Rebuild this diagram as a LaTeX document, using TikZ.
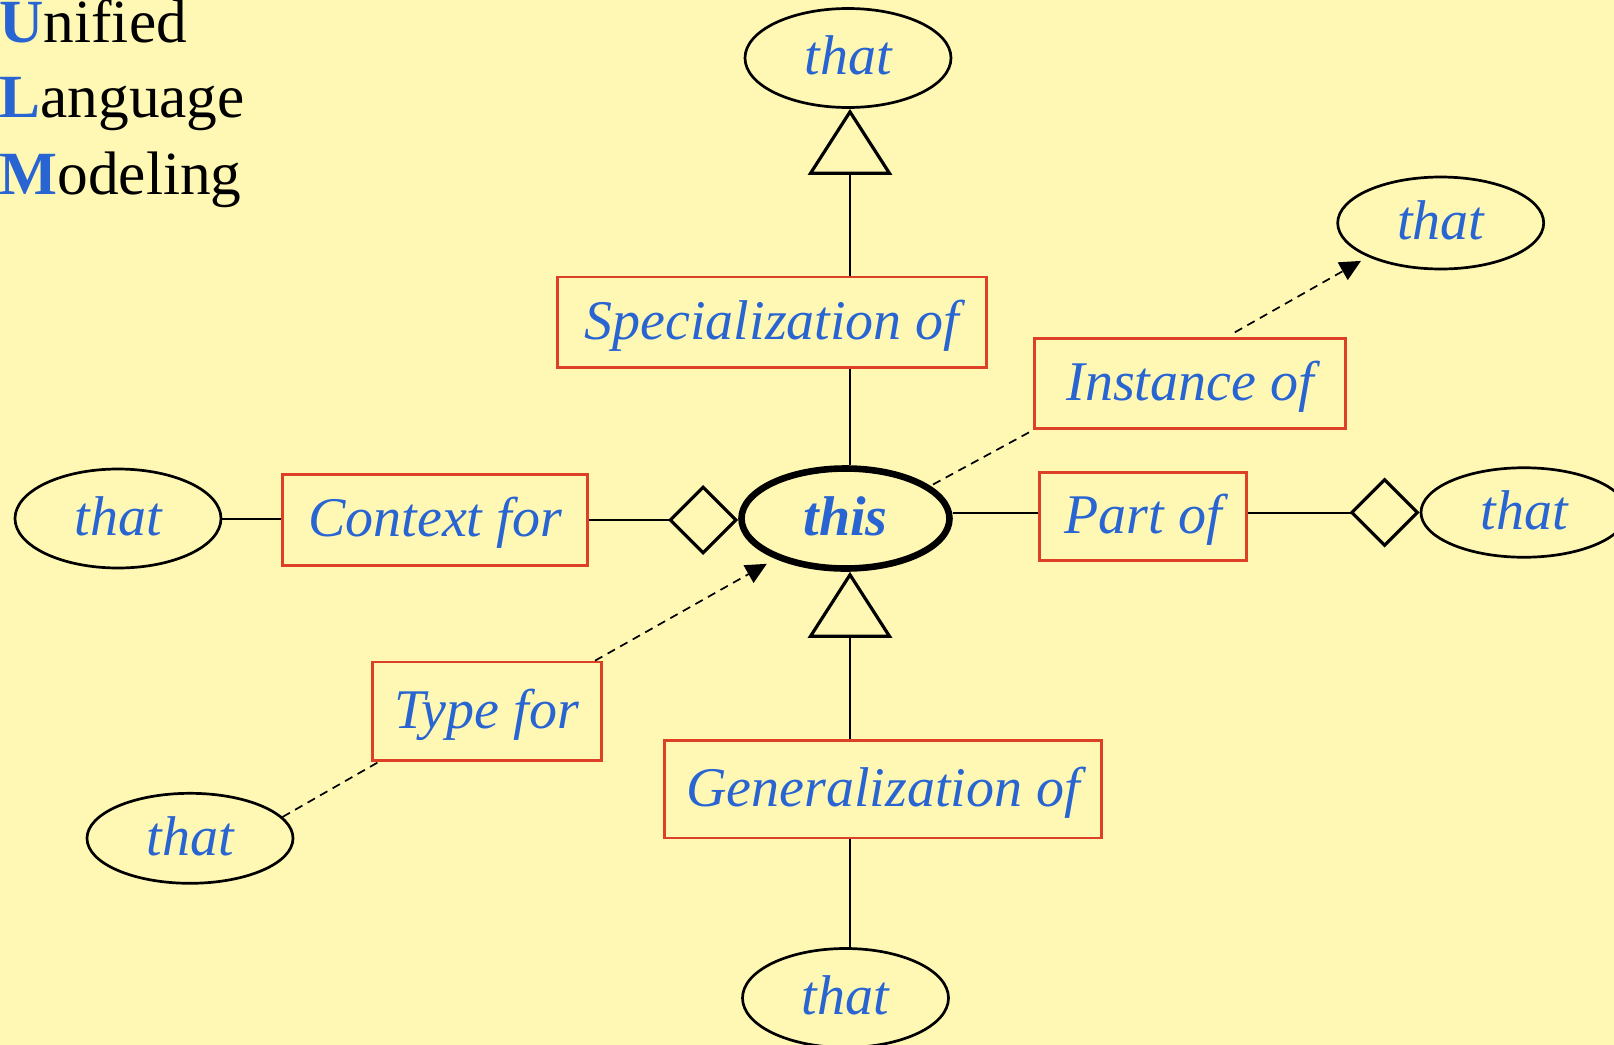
\documentclass[tikz,border=0pt]{standalone}
\usepackage{fontspec}
\setmainfont{Liberation Serif}
\usetikzlibrary{arrows.meta,shapes.geometric,calc}
\definecolor{bgc}{RGB}{255,248,180}
\definecolor{umlblue}{RGB}{40,100,210}
\definecolor{boxred}{RGB}{220,65,40}
\begin{document}
\begin{tikzpicture}[x=0.5pt,y=-0.5pt,
  lbl/.style={font=\fontsize{28}{34}\selectfont\itshape, text=umlblue,
    text height=21pt, text depth=4.2pt, inner sep=0pt},
  relbox/.style={lbl, rectangle, draw=boxred, line width=1.35pt, fill=bgc},
  thing/.style={lbl, ellipse, draw=black, line width=1.35pt, fill=bgc,
    minimum width=103pt},
  central/.style={thing, line width=3.3pt, font=\fontsize{28}{34}\selectfont\bfseries\itshape},
  titleline/.style={anchor=base west, inner sep=0pt, font=\fontsize{30.7}{36}\selectfont},
  conn/.style={draw=black, line width=1pt},
  dashc/.style={draw=black, line width=0.85pt, dash pattern=on 4.2pt off 3pt},
  gentip/.style={-{Triangle[open,length=33pt,width=42pt,line width=1.6pt]}},
  aggtip/.style={-{Diamond[open,length=35pt,width=35pt,line width=1.6pt]}},
  deptip/.style={-{Triangle[length=10.5pt,width=10pt]}}
]
\fill[bgc] (0,0) rectangle (1614,1045);
\useasboundingbox (0,0) rectangle (1614,1045);

% title
\node[titleline] (ti1) at (-1,42) {\textcolor{umlblue}{\textbf{U}}nified};
\node[titleline] (ti2) at (-1,117) {\textcolor{umlblue}{\textbf{L}}anguage};
\node[titleline] (ti3) at (-1,194) {\textcolor{umlblue}{\textbf{M}}odeling};

% ellipses
\node[central, minimum width=104pt, minimum height=50pt] (this) at (845.5,518.5) {this};
\node[thing, minimum height=49.5pt] (t1) at (848,58) {that};
\node[thing, minimum height=46pt] (t2) at (1440.7,223) {that};
\node[thing, minimum height=49.5pt] (t3) at (118,518.5) {that};
\node[thing, minimum height=44.75pt] (t4) at (1524,512.5) {that};
\node[thing, minimum height=45pt] (t5) at (190,838.3) {that};
\node[thing, minimum height=49.5pt] (t6) at (845.5,998) {that};

% relation boxes
\node[relbox, minimum width=214.75pt, minimum height=45.25pt] (spec) at (772,322.3) {Specialization of};
\node[relbox, minimum width=155.35pt, minimum height=45pt] (inst) at (1190,383.7) {Instance of};
\node[relbox, minimum width=152.6pt, minimum height=45.3pt] (ctx) at (435,520) {Context for};
\node[relbox, minimum width=103.2pt, minimum height=44.2pt] (part) at (1143,516.5) {Part of};
\node[relbox, minimum width=218.7pt, minimum height=48.7pt] (gen) at (883,789.3) {Generalization of};
\node[relbox, minimum width=114.7pt, minimum height=49.2pt] (type) at (487,711.2) {Type for};

\coordinate (vx) at (850,0);

% vertical axis
\draw[conn, gentip] (vx |- spec.north) -- (vx |- t1.south);
\draw[conn] (vx |- this.north) -- (vx |- spec.south);
\draw[conn, gentip] (vx |- gen.north) -- (vx |- this.south);
\draw[conn] (vx |- gen.south) -- (vx |- t6.north);

% horizontal axis
\draw[conn] (t3.east) -- (t3.east -| ctx.west);
\draw[conn, aggtip] (ctx.east) -- (ctx.east -| this.west);
\draw[conn] (this.east |- t4.west) -- (part.west |- t4.west);
\draw[conn, aggtip] (part.east |- t4.west) -- (t4.west);

% dashed dependencies
\draw[dashc, shorten <=1.5pt] (this.21) -- (inst.south west);
\draw[dashc, deptip, shorten >=4pt] ($(inst.north west)!0.643!(inst.north east)+(0,-5)$) -- (t2.205);
\draw[dashc, deptip, shorten >=5pt] ($(type.north east)+(-8,0)$) -- (this.210);
\draw[dashc] (t5.13) -- ($(type.south west)+(8,0)$);
\end{tikzpicture}
\end{document}
